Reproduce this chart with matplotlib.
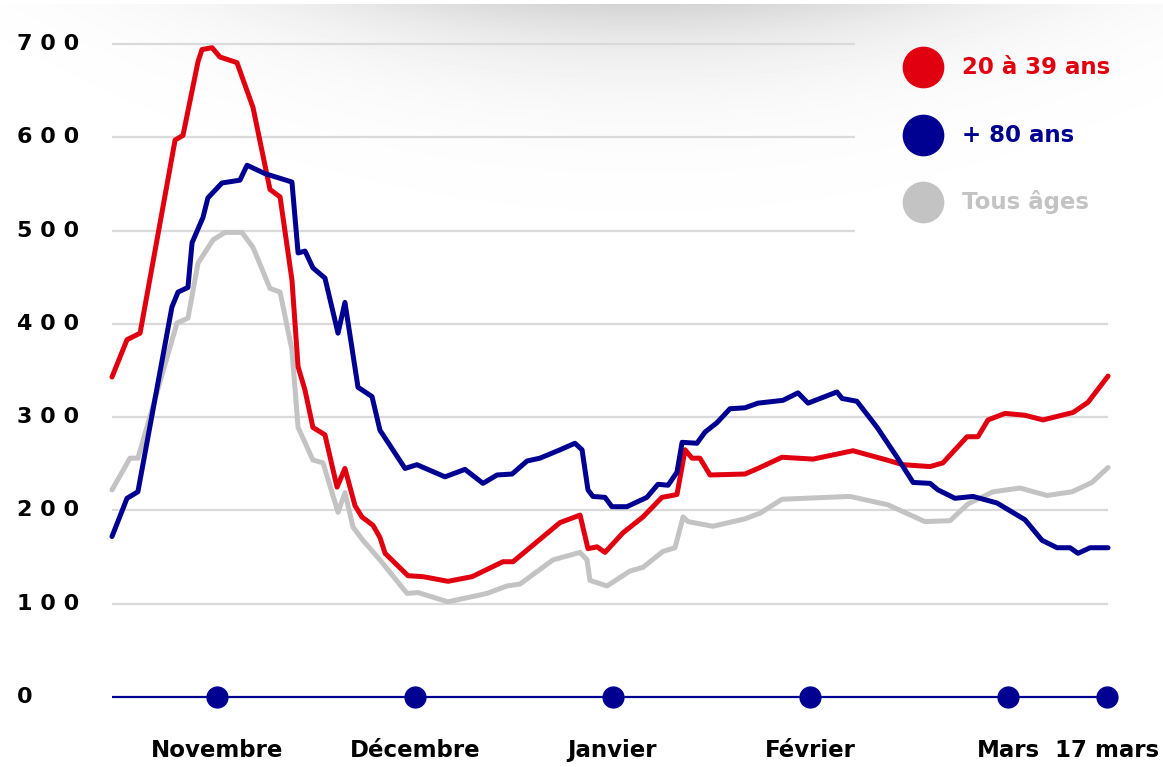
import matplotlib
matplotlib.use("Agg")
import matplotlib.pyplot as plt
import numpy as np

# ---------------- data (x = months since 1 November) ----------------
months_pos = [0, 1, 2, 3, 4, 4.5]
months_lbl = ["Novembre", "Décembre", "Janvier", "Février", "Mars", "17 mars"]

y_ticks = [0, 100, 200, 300, 400, 500, 600, 700]
y_tick_lbl = ["0", "1 0 0", "2 0 0", "3 0 0", "4 0 0", "5 0 0", "6 0 0", "7 0 0"]

red_x = [-0.531, -0.455, -0.389, -0.212, -0.172, -0.096, -0.076, -0.025, 0.015, 0.101,
         0.182, 0.268, 0.319, 0.379, 0.410, 0.445, 0.485, 0.546, 0.607, 0.647,
         0.698, 0.733, 0.789, 0.824, 0.850, 0.966, 1.042, 1.168, 1.290, 1.446,
         1.497, 1.735, 1.836, 1.876, 1.922, 1.962, 2.053, 2.154, 2.250, 2.326,
         2.367, 2.402, 2.442, 2.493, 2.670, 2.746, 2.857, 3.014, 3.216, 3.388,
         3.469, 3.606, 3.671, 3.793, 3.848, 3.899, 3.985, 4.086, 4.177, 4.329,
         4.405, 4.506]
red_y = [343, 383, 390, 597, 602, 681, 694, 696, 686, 680,
         632, 544, 536, 447, 354, 329, 289, 281, 225, 245,
         205, 193, 184, 171, 154, 130, 129, 124, 129, 145,
         145, 187, 195, 159, 161, 155, 176, 193, 214, 217,
         265, 256, 256, 238, 239, 246, 257, 255, 264, 254,
         249, 247, 251, 279, 279, 297, 304, 302, 297, 305,
         316, 344]

blue_x = [-0.531, -0.455, -0.400, -0.228, -0.197, -0.147, -0.126, -0.071, -0.046, 0.025,
          0.116, 0.152, 0.243, 0.379, 0.410, 0.445, 0.485, 0.546, 0.612, 0.647,
          0.713, 0.784, 0.824, 0.951, 1.011, 1.153, 1.254, 1.345, 1.416, 1.492,
          1.568, 1.633, 1.735, 1.810, 1.846, 1.876, 1.901, 1.962, 1.997, 2.073,
          2.174, 2.230, 2.281, 2.326, 2.352, 2.427, 2.468, 2.528, 2.594, 2.670,
          2.736, 2.862, 2.938, 2.989, 3.135, 3.161, 3.236, 3.338, 3.439, 3.520,
          3.606, 3.646, 3.732, 3.823, 3.944, 4.086, 4.172, 4.248, 4.314, 4.354,
          4.415, 4.506]
blue_y = [172, 213, 220, 418, 434, 439, 487, 514, 535, 551,
          554, 570, 561, 552, 476, 478, 460, 449, 390, 423,
          332, 322, 286, 245, 249, 236, 244, 229, 238, 239,
          253, 256, 265, 272, 265, 222, 215, 214, 204, 204,
          214, 228, 227, 241, 273, 272, 284, 294, 309, 310,
          315, 318, 326, 315, 327, 320, 317, 289, 257, 230,
          229, 222, 213, 215, 208, 190, 168, 160, 160, 154,
          160, 160]

gray_x = [-0.531, -0.440, -0.400, -0.202, -0.147, -0.096, -0.020, 0.040, 0.126, 0.182,
          0.268, 0.319, 0.379, 0.410, 0.485, 0.536, 0.612, 0.647, 0.688, 0.738,
          0.824, 0.961, 1.016, 1.168, 1.365, 1.466, 1.532, 1.699, 1.836, 1.871,
          1.886, 1.972, 2.088, 2.154, 2.255, 2.316, 2.357, 2.382, 2.508, 2.670,
          2.746, 2.857, 3.201, 3.393, 3.580, 3.707, 3.798, 3.924, 4.061, 4.197,
          4.324, 4.425, 4.506]
gray_y = [222, 256, 256, 401, 406, 465, 490, 498, 498, 482,
          438, 434, 372, 289, 254, 251, 198, 219, 182, 168,
          147, 111, 112, 102, 111, 119, 121, 147, 155, 147,
          125, 119, 135, 139, 156, 160, 193, 188, 183, 191,
          197, 212, 215, 206, 188, 189, 207, 220, 224, 216,
          220, 230, 246]

series_names = ["20 à 39 ans", "+ 80 ans", "Tous âges"]

# ---------------- style ----------------
RED = "#E1000F"
NAVY = "#000091"
GRAY = "#C3C3C3"
GRID = "#DADADA"
FONT = "DejaVu Sans"

W, H = 1163, 767
fig = plt.figure(figsize=(W / 100, H / 100), dpi=100)

# soft shadow at the top (decoration)
bg = fig.add_axes([0, 0, 1, 1], zorder=0)
bg.set_xlim(0, W)
bg.set_ylim(H, 0)
bg.axis("off")
gx, gy = np.meshgrid(np.arange(W), np.arange(H))
shade = 0.17 * np.exp(-((gx - 640) / 360.0) ** 2) * np.exp(-np.clip(gy - 4, 0, None) / 55.0)
shade[gy < 4] = 0
img = 1 - shade
bg.imshow(img, cmap="gray", vmin=0, vmax=1, extent=(0, W, H, 0), aspect="auto")

ax = fig.add_axes([0, 0, 1, 1], zorder=1)
ax.patch.set_alpha(0)
ppm = 197.75   # pixels per month
ppu = 0.9329   # pixels per unit
ax.set_xlim(-217 / ppm, (W - 217) / ppm)
ax.set_ylim((697 - H) / ppu, 697 / ppu)
ax.axis("off")

x_start = red_x[0]
x_end = red_x[-1]
x_short = 3.226
for v in y_ticks[1:]:
    ax.hlines(v, x_start, x_short if v >= 500 else x_end, color=GRID, lw=1.6, zorder=1)

kw = dict(lw=3.6, solid_joinstyle="round", solid_capstyle="round")
ax.plot(gray_x, gray_y, color=GRAY, zorder=3, **kw)
ax.plot(red_x, red_y, color=RED, zorder=4, **kw)
ax.plot(blue_x, blue_y, color=NAVY, zorder=5, **kw)

# baseline with month dots
ax.hlines(0, x_start, x_end, color=NAVY, lw=1.6, zorder=5)
ax.plot(months_pos, [0] * len(months_pos), "o", color=NAVY, ms=15, zorder=6)

ytr = ax.get_yaxis_transform()
for v, lbl in zip(y_ticks, y_tick_lbl):
    ax.text(17 / W, v, lbl, transform=ytr, ha="left", va="center",
            fontsize=16, fontweight="bold", family=FONT, color="black")

for p, lbl in zip(months_pos, months_lbl):
    ax.text(p, -57, lbl, ha="center", va="center", fontsize=16.5,
            fontweight="bold", family=FONT, color="black")

# legend
leg_colors = [RED, NAVY, GRAY]
leg_y = [67, 135, 202]
for name, c, py in zip(series_names, leg_colors, leg_y):
    fy = 1 - py / H
    fig.lines.append(plt.Line2D([923 / W], [fy], marker="o", ms=29, color=c,
                                transform=fig.transFigure, zorder=10))
    fig.text(962 / W, fy, name, ha="left", va="center", fontsize=16.5,
             fontweight="bold", family=FONT, color=c, zorder=10)

fig.savefig("out.png", dpi=100)
